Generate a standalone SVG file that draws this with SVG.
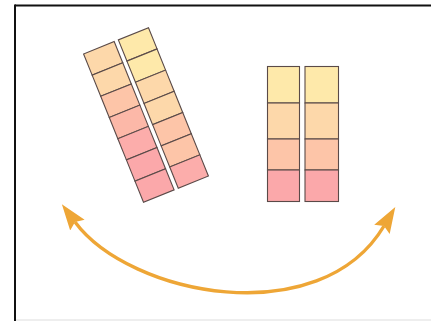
<svg xmlns="http://www.w3.org/2000/svg" width="431" height="321" viewBox="0 0 431 321">
  <style>
    .cell { stroke: #5a4a48; stroke-width: 1.1; }
    .frame { stroke: #111; stroke-width: 2; fill: none; }
    .arrow { stroke: #EEA636; stroke-width: 3.4; fill: none; }
    .c1 { fill: #FEE9AA; }
    .c2 { fill: #FEDFAA; }
    .c3 { fill: #FDD8AA; }
    .c4 { fill: #FDCFA8; }
    .c5 { fill: #FDC5A8; }
    .c6 { fill: #FCB8A8; }
    .c7 { fill: #FCADAB; }
    .c8 { fill: #FBA8AA; }
  </style>
  <defs>
    <marker id="head" markerUnits="userSpaceOnUse" markerWidth="32" markerHeight="24" viewBox="0 -12 32 24" refX="4" refY="0" orient="auto-start-reverse">
      <path d="M0,-9 L26,0 L0,9 L4,0 Z" fill="#EEA636"/>
    </marker>
  </defs>
  <rect x="0" y="0" width="431" height="321" fill="#fff"/>
  <g id="frame">
    <line class="frame" x1="15" y1="5.5" x2="431" y2="5.5"/>
    <line class="frame" x1="15" y1="4.5" x2="15" y2="321"/>
    <line x1="16" y1="320" x2="431" y2="320" stroke="#dddddd" stroke-width="1.2"/>
  </g>
  <g id="left-stack" transform="translate(146,115) rotate(-22)">
    <rect class="cell c3" x="-35" y="-80" width="33" height="22.86"/>
    <rect class="cell c3" x="-35" y="-57.14" width="33" height="22.86"/>
    <rect class="cell c5" x="-35" y="-34.29" width="33" height="22.86"/>
    <rect class="cell c6" x="-35" y="-11.43" width="33" height="22.86"/>
    <rect class="cell c7" x="-35" y="11.43" width="33" height="22.86"/>
    <rect class="cell c8" x="-35" y="34.29" width="33" height="22.86"/>
    <rect class="cell c8" x="-35" y="57.14" width="33" height="22.86"/>
    <rect class="cell c1" x="2.5" y="-80" width="32.5" height="22.86"/>
    <rect class="cell c1" x="2.5" y="-57.14" width="32.5" height="22.86"/>
    <rect class="cell c3" x="2.5" y="-34.29" width="32.5" height="22.86"/>
    <rect class="cell c3" x="2.5" y="-11.43" width="32.5" height="22.86"/>
    <rect class="cell c5" x="2.5" y="11.43" width="32.5" height="22.86"/>
    <rect class="cell c5" x="2.5" y="34.29" width="32.5" height="22.86"/>
    <rect class="cell c7" x="2.5" y="57.14" width="32.5" height="22.86"/>
  </g>
  <g id="right-stack">
    <rect class="cell c1" x="267.5" y="66.5" width="32" height="36.5"/>
    <rect class="cell c3" x="267.5" y="103" width="32" height="36"/>
    <rect class="cell c5" x="267.5" y="139" width="32" height="31"/>
    <rect class="cell c8" x="267.5" y="170" width="32" height="31.5"/>
    <rect class="cell c1" x="305" y="66.5" width="33.5" height="36.5"/>
    <rect class="cell c3" x="305" y="103" width="33.5" height="36"/>
    <rect class="cell c5" x="305" y="139" width="33.5" height="31"/>
    <rect class="cell c8" x="305" y="170" width="33.5" height="31.5"/>
  </g>
  <g id="connectors">
    <path class="arrow" d="M75,222 C130,296 320,333 384,226" marker-start="url(#head)" marker-end="url(#head)"/>
  </g>
</svg>
